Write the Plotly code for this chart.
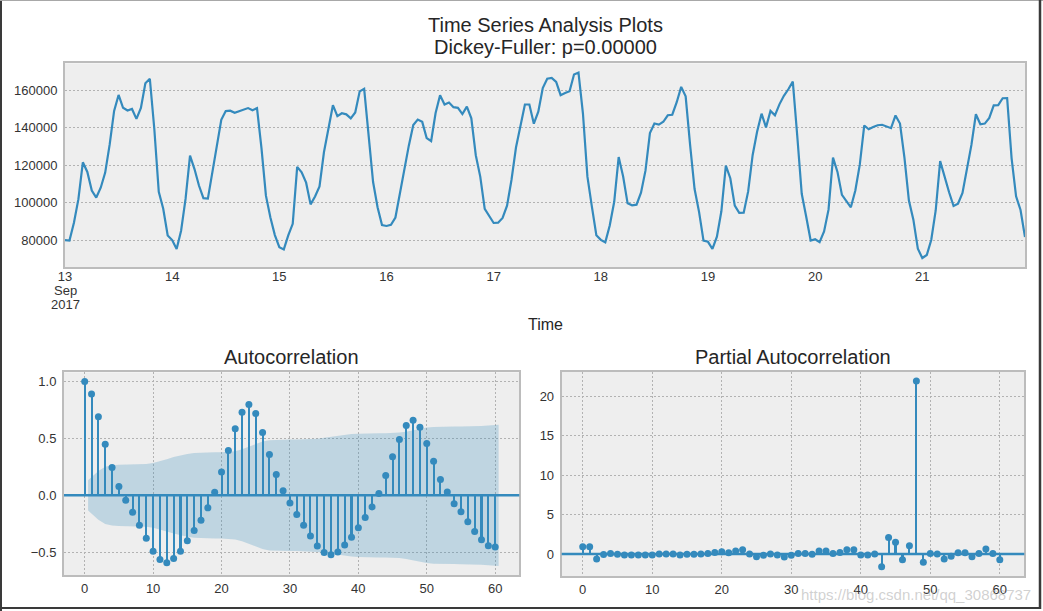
import pandas as pd
import plotly.graph_objects as go

# ---------------- data ----------------
ads = [
    80115, 79885, 89325, 101930, 121630, 116475, 106495, 102795, 108055, 116125, 131030, 149020,
    157590, 150715, 149295, 150100, 144780, 150690, 163840, 166235, 139520, 105895, 96780, 82520,
    80125, 75335, 85105, 102080, 125135, 118030, 109225, 102475, 102240, 115840, 130540, 144325,
    148970, 149150, 148040, 148810, 149830, 150570, 149440, 150520, 129130, 103815, 92175, 82765,
    76315, 75130, 82640, 88795, 119170, 116315, 110740, 99155, 103385, 108755, 127120, 140205,
    152120, 146285, 147825, 147225, 145060, 148235, 159480, 160840, 136870, 111075, 97660, 88120,
    87625, 88235, 92155, 105095, 119285, 130500, 141500, 144460, 143215, 134555, 132980, 147960,
    157420, 152455, 153525, 151050, 150695, 147355, 151340, 145135, 125395, 113965, 96720, 92825,
    89225, 89395, 91905, 98500, 112300, 129525, 140900, 152470, 152475, 142225, 148670, 161275,
    166220, 166635, 164490, 157480, 158565, 159530, 168470, 169525, 147655, 113935, 98000, 82665,
    80205, 78915, 87930, 100550, 124440, 114005, 99705, 98670, 98995, 105410, 117140, 137195,
    142360, 141740, 143260, 146725, 147025, 153685, 161880, 156850, 130835, 107325, 95165, 79835,
    79175, 75340, 81945, 95455, 119855, 113135, 98490, 94595, 94705, 106080, 125425, 137890,
    147580, 140270, 149090, 146700, 152555, 157115, 160610, 164690, 135525, 104820, 92520, 79835,
    80555, 78965, 84665, 96335, 124090, 116490, 104215, 100805, 97585, 106545, 120370, 141275,
    139255, 140515, 141420, 141670, 140835, 139835, 146650, 142335, 124145, 101215, 91015, 75500,
    70515, 72145, 80165, 95895, 122275, 113310, 105650, 98310, 99560, 105210, 117595, 130920,
    147285, 141905, 142290, 145275, 152000, 152155, 155830, 155870, 123745, 103435, 96180, 81765,
]
time_index = pd.date_range("2017-09-13 00:00", periods=len(ads), freq="h")

day_ticks = ["2017-09-13", "2017-09-14", "2017-09-15", "2017-09-16", "2017-09-17",
             "2017-09-18", "2017-09-19", "2017-09-20", "2017-09-21"]
day_labels = ["13", "14", "15", "16", "17", "18", "19", "20", "21"]
first_tick_extra = ["Sep", "2017"]
y_ticks_top = [80000, 100000, 120000, 140000, 160000]

lags = list(range(61))
acf_vals = [
    1.0, 0.89, 0.69, 0.448, 0.244, 0.078, -0.044, -0.148, -0.262, -0.378,
    -0.491, -0.564, -0.593, -0.555, -0.491, -0.398, -0.308, -0.218, -0.110, 0.026,
    0.206, 0.395, 0.584, 0.730, 0.797, 0.718, 0.552, 0.358, 0.183, 0.041,
    -0.067, -0.169, -0.262, -0.358, -0.445, -0.503, -0.523, -0.497, -0.436, -0.369,
    -0.285, -0.195, -0.102, 0.017, 0.174, 0.340, 0.491, 0.613, 0.660, 0.599,
    0.456, 0.299, 0.140, 0.029, -0.073, -0.145, -0.233, -0.317, -0.390, -0.442,
    -0.453,
]
# half-width of the 95% confidence band for lags 1..60
acf_conf = [
    0.133, 0.214, 0.251, 0.265, 0.269, 0.269, 0.269, 0.271, 0.275, 0.284,
    0.299, 0.317, 0.336, 0.352, 0.364, 0.372, 0.376, 0.379, 0.379, 0.379,
    0.381, 0.388, 0.404, 0.427, 0.452, 0.472, 0.484, 0.488, 0.489, 0.490,
    0.490, 0.491, 0.493, 0.498, 0.505, 0.514, 0.523, 0.531, 0.538, 0.542,
    0.545, 0.546, 0.546, 0.546, 0.547, 0.551, 0.559, 0.571, 0.584, 0.595,
    0.601, 0.604, 0.604, 0.604, 0.605, 0.605, 0.607, 0.610, 0.614, 0.620,
]
pacf_vals = [
    0.93, 0.93, -0.64, -0.05, 0.08, -0.04, -0.13, -0.13, -0.13, -0.13,
    -0.13, 0.0, 0.0, 0.0, -0.13, -0.04, -0.04, 0.0, 0.08, 0.20,
    0.30, 0.17, 0.38, 0.55, 0.0, -0.34, -0.17, 0.0, -0.13, -0.38,
    -0.17, 0.08, 0.08, -0.04, 0.38, 0.38, 0.08, 0.20, 0.55, 0.55,
    -0.13, -0.13, 0.0, -1.61, 2.08, 1.48, -0.72, 1.06, 21.95, -1.06,
    0.08, 0.0, -0.64, -0.30, 0.17, 0.17, -0.34, 0.08, 0.64, 0.08,
    -0.72,
]
pacf_conf = 0.133

# ---------------- style ----------------
BLUE = "#348ABD"
BAND = "rgba(52,138,189,0.25)"
FONT = "Liberation Sans, Arial, sans-serif"
TXT = "#333333"
W, H = 1043, 611


def px_x(p):
    return p / W


def px_y(p):
    return 1 - p / H


fig = go.Figure()

# top: time series
fig.add_trace(go.Scatter(x=time_index, y=ads, mode="lines",
                         line=dict(color=BLUE, width=2.2), xaxis="x", yaxis="y",
                         hoverinfo="skip"))

# ACF band
band_x = [0.5] + lags[2:60] + [60.5]
fig.add_trace(go.Scatter(x=band_x, y=[-c for c in acf_conf], mode="lines",
                         line=dict(width=0, color=BAND), xaxis="x2", yaxis="y2",
                         hoverinfo="skip"))
fig.add_trace(go.Scatter(x=band_x, y=acf_conf, mode="lines", fill="tonexty",
                         fillcolor=BAND, line=dict(width=0, color=BAND),
                         xaxis="x2", yaxis="y2", hoverinfo="skip"))
# ACF stems + markers
fig.add_trace(go.Bar(x=lags, y=acf_vals, width=0.3, marker=dict(color=BLUE, line=dict(width=0)),
                     xaxis="x2", yaxis="y2", hoverinfo="skip"))
fig.add_trace(go.Scatter(x=lags, y=acf_vals, mode="markers",
                         marker=dict(color=BLUE, size=7), xaxis="x2", yaxis="y2",
                         hoverinfo="skip"))

# PACF band
fig.add_trace(go.Scatter(x=[0.5, 60.5], y=[-pacf_conf, -pacf_conf], mode="lines",
                         line=dict(width=0, color=BAND), xaxis="x3", yaxis="y3",
                         hoverinfo="skip"))
fig.add_trace(go.Scatter(x=[0.5, 60.5], y=[pacf_conf, pacf_conf], mode="lines",
                         fill="tonexty", fillcolor=BAND, line=dict(width=0, color=BAND),
                         xaxis="x3", yaxis="y3", hoverinfo="skip"))
fig.add_trace(go.Bar(x=lags, y=pacf_vals, width=0.3, marker=dict(color=BLUE, line=dict(width=0)),
                     xaxis="x3", yaxis="y3", hoverinfo="skip"))
fig.add_trace(go.Scatter(x=lags, y=pacf_vals, mode="markers",
                         marker=dict(color=BLUE, size=7), xaxis="x3", yaxis="y3",
                         hoverinfo="skip"))

axis_common = dict(showline=True, linecolor="#bcbcbc", linewidth=2, mirror=True,
                   zeroline=False, automargin=False, ticks="outside", ticklen=3,
                   tickcolor="rgba(0,0,0,0)",
                   tickfont=dict(family=FONT, size=13, color=TXT),
                   gridcolor="#b2b2b2", gridwidth=1, griddash="2px,2px")
xaxis_common = dict(axis_common, ticks="", ticklen=0)

fig.update_layout(
    width=W, height=H, autosize=False,
    margin=dict(l=0, r=0, t=0, b=0, pad=0),
    paper_bgcolor="white", plot_bgcolor="#eeeeee",
    showlegend=False, barmode="overlay", bargap=0,
    font=dict(family=FONT, color=TXT),
    xaxis=dict(xaxis_common, domain=[px_x(65), px_x(1025)], anchor="y", type="date",
               range=[time_index[0], time_index[-1]],
               tickmode="array", tickvals=day_ticks, ticktext=day_labels,
               ticklabelstandoff=-4, showgrid=False),
    yaxis=dict(axis_common, domain=[px_y(267.3), px_y(63.3)], anchor="x",
               range=[65565, 174475], tickmode="array", tickvals=y_ticks_top,
               tickformat="d", showgrid=True),
    xaxis2=dict(xaxis_common, domain=[px_x(64), px_x(519.3)], anchor="y2",
                range=[-3.025, 63.525], tickmode="linear", tick0=0, dtick=10,
                showgrid=True),
    yaxis2=dict(axis_common, domain=[px_y(575), px_y(372.3)], anchor="x2",
                range=[-0.70, 1.081], tickmode="array", tickvals=[-0.5, 0.0, 0.5, 1.0],
                tickformat=".1f", showgrid=True),
    xaxis3=dict(xaxis_common, domain=[px_x(561.7), px_x(1024.3)], anchor="y3",
                range=[-3.025, 63.525], tickmode="linear", tick0=0, dtick=10,
                showgrid=True),
    yaxis3=dict(axis_common, domain=[px_y(576), px_y(371.7)], anchor="x3",
                range=[-2.79, 23.13], tickmode="array", tickvals=[0, 5, 10, 15, 20],
                showgrid=True),
)

# zero lines (axhline)
for xr, yr in (("x2 domain", "y2"), ("x3 domain", "y3")):
    fig.add_shape(type="line", xref=xr, yref=yr, x0=0, x1=1, y0=0, y1=0,
                  line=dict(color=BLUE, width=2.5), layer="above")

# second and third line of the first date tick label
for txt, ypx in zip(first_tick_extra, (290.5, 304)):
    fig.add_annotation(text=txt, x=day_ticks[0], xref="x", y=px_y(ypx), yref="paper",
                       xanchor="center", yanchor="middle", showarrow=False,
                       font=dict(family=FONT, size=13, color=TXT))

# texts
ann = [
    dict(text="Time Series Analysis Plots", x=px_x(545), y=px_y(25), size=20),
    dict(text="Dickey-Fuller: p=0.00000", x=px_x(545), y=px_y(47), size=20),
    dict(text="Time", x=px_x(545), y=px_y(324), size=16),
    dict(text="Autocorrelation", x=px_x(291.7), y=px_y(357), size=20),
    dict(text="Partial Autocorrelation", x=px_x(793), y=px_y(357), size=20),
]
for a in ann:
    fig.add_annotation(text=a["text"], x=a["x"], y=a["y"], xref="paper", yref="paper",
                       xanchor="center", yanchor="middle", showarrow=False,
                       font=dict(family=FONT, size=a["size"], color="#262626"))

fig.add_annotation(text="https://blog.csdn.net/qq_30868737", x=px_x(1033), y=px_y(594),
                   xref="paper", yref="paper", xanchor="right", yanchor="middle",
                   showarrow=False,
                   font=dict(family=FONT, size=15, color="rgba(170,170,170,0.55)"))

# window frame
frame = [
    (px_x(1), px_x(1), 0, 1, "#3a3a3a", 2),
    (0, 1, px_y(0.5), px_y(0.5), "#a8a8a8", 1),
    (px_x(1040), px_x(1040), px_y(609), 1, "#3a3a3a", 2.5),
    (0, px_x(1041), px_y(608), px_y(608), "#3a3a3a", 2),
]
for x0, x1, y0, y1, c, w in frame:
    fig.add_shape(type="line", xref="paper", yref="paper", x0=x0, x1=x1, y0=y0, y1=y1,
                  line=dict(color=c, width=w), layer="above")

fig.write_html(
    "out.html",
    config={"displayModeBar": False, "staticPlot": True},
    post_script="document.body.style.margin='0px';document.body.style.padding='0px';"
                "document.body.style.overflow='hidden';",
)
